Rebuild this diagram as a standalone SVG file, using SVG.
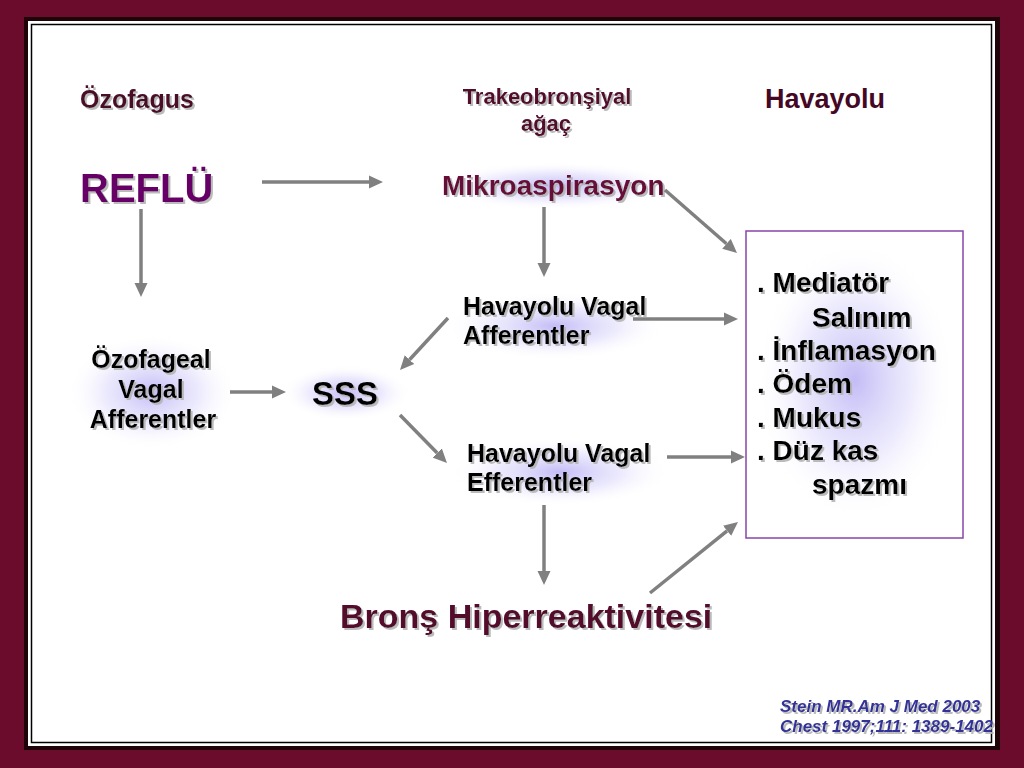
<svg xmlns="http://www.w3.org/2000/svg" width="1024" height="768" viewBox="0 0 1024 768">
<defs>
<style>
text{font-family:"Liberation Sans",Arial,Helvetica,sans-serif;font-weight:bold}
.sh{filter:url(#ds)}
.blk{fill:#000}
.conn line{stroke:#808080;stroke-width:3.5;marker-end:url(#ah)}
</style>
<filter id="ds" x="-10%" y="-30%" width="120%" height="160%">
<feDropShadow dx="2" dy="2" stdDeviation="0.5" flood-color="#b4b4b4" flood-opacity="0.9"/>
</filter>
<marker id="ah" viewBox="0 -7 15 14" markerWidth="15" markerHeight="14" refX="0" refY="0" orient="auto" markerUnits="userSpaceOnUse">
<path d="M0,-6.5 L14,0 L0,6.5 z" fill="#808080"/>
</marker>
<radialGradient id="glow" cx="50%" cy="50%" r="50%">
<stop offset="0" stop-color="#b8b0f4" stop-opacity="0.85"/>
<stop offset="0.55" stop-color="#d8d4fa" stop-opacity="0.5"/>
<stop offset="1" stop-color="#ffffff" stop-opacity="0"/>
</radialGradient>
</defs>

<rect x="0" y="0" width="1024" height="768" fill="#6b0c2c"/>
<rect x="24" y="17" width="976" height="733" fill="#1e0308"/>
<rect x="28" y="21" width="967" height="725" fill="#ffffff"/>
<rect x="31.5" y="24.5" width="960" height="718" fill="#ffffff" stroke="#000" stroke-width="1.5"/>

<g id="headers">
<text class="sh" x="80" y="108" font-size="25" fill="#4a0828">Özofagus</text>
<text class="sh" x="547" y="104" font-size="22" fill="#52082c" text-anchor="middle">Trakeobronşiyal</text>
<text class="sh" x="546" y="131" font-size="22" fill="#52082c" text-anchor="middle">ağaç</text>
<text x="765" y="108" font-size="27" fill="#440824">Havayolu</text>
</g>

<g id="reflu">
<text class="sh" x="80" y="202" font-size="40" fill="#660066">REFLÜ</text>
</g>

<g id="mikroaspirasyon">
<ellipse cx="555" cy="186" rx="125" ry="24" fill="url(#glow)"/>
<text class="sh" x="442" y="195" font-size="28" fill="#660a38">Mikroaspirasyon</text>
</g>

<g id="havayolu-afferent">
<ellipse cx="555" cy="326" rx="110" ry="34" fill="url(#glow)"/>
<text class="sh blk" x="463" y="315" font-size="25">Havayolu Vagal</text>
<text class="sh blk" x="463" y="344" font-size="25">Afferentler</text>
</g>

<g id="havayolu-efferent">
<ellipse cx="560" cy="472" rx="110" ry="34" fill="url(#glow)"/>
<text class="sh blk" x="467" y="462" font-size="25">Havayolu Vagal</text>
<text class="sh blk" x="467" y="491" font-size="25">Efferentler</text>
</g>

<g id="ozofageal">
<ellipse cx="152" cy="392" rx="85" ry="58" fill="url(#glow)"/>
<text class="sh blk" x="151" y="368" font-size="25" text-anchor="middle">Özofageal</text>
<text class="sh blk" x="151" y="398" font-size="25" text-anchor="middle">Vagal</text>
<text class="sh blk" x="153" y="428" font-size="25" text-anchor="middle">Afferentler</text>
</g>

<g id="sss">
<ellipse cx="346" cy="393" rx="65" ry="28" fill="url(#glow)"/>
<text class="sh blk" x="312" y="405" font-size="33">SSS</text>
</g>

<g id="etkiler">
<rect x="746" y="231" width="217" height="307" fill="#ffffff" stroke="#8844aa" stroke-width="1.5"/>
<ellipse cx="855" cy="380" rx="100" ry="140" fill="url(#glow)"/>
<text class="sh blk" x="757" y="292" font-size="28">. Mediatör</text>
<text class="sh blk" x="812" y="327" font-size="28">Salınım</text>
<text class="sh blk" x="757" y="360" font-size="28">. İnflamasyon</text>
<text class="sh blk" x="757" y="393" font-size="28">. Ödem</text>
<text class="sh blk" x="757" y="427" font-size="28">. Mukus</text>
<text class="sh blk" x="757" y="460" font-size="28">. Düz kas</text>
<text class="sh blk" x="812" y="494" font-size="28">spazmı</text>
</g>

<g id="brons">
<text class="sh" x="340" y="628" font-size="34" fill="#52082c">Bronş Hiperreaktivitesi</text>
</g>

<g id="kaynak">
<text class="sh" x="780" y="712" font-size="17" font-style="italic" fill="#333399">Stein MR.Am J Med 2003</text>
<text class="sh" x="780" y="732" font-size="17" font-style="italic" fill="#333399">Chest 1997;111: 1389-1402</text>
</g>

<g id="connectors" class="conn">
<line x1="262" y1="182" x2="369" y2="182"/>
<line x1="141" y1="209" x2="141" y2="283"/>
<line x1="544" y1="207" x2="544" y2="263"/>
<line x1="665" y1="190" x2="726.5" y2="243.8"/>
<line x1="633" y1="319" x2="724" y2="319"/>
<line x1="667" y1="457" x2="731" y2="457"/>
<line x1="448" y1="318" x2="409.5" y2="359.7"/>
<line x1="400" y1="415" x2="437.2" y2="453"/>
<line x1="230" y1="392" x2="272" y2="392"/>
<line x1="544" y1="505" x2="544" y2="571"/>
<line x1="650" y1="593" x2="727.1" y2="530.8"/>
</g>
</svg>
